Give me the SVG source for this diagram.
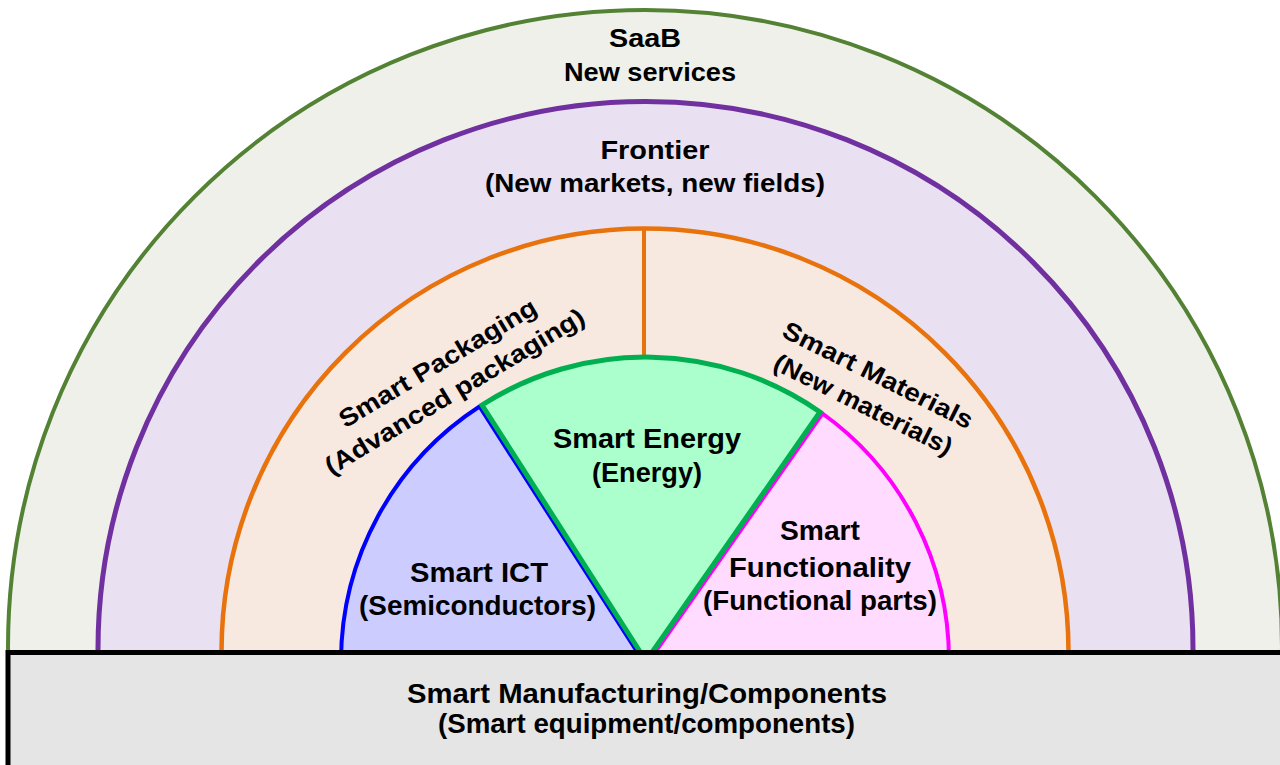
<svg xmlns="http://www.w3.org/2000/svg" width="1280" height="765" viewBox="0 0 1280 765">
  <style>
    .t { font-family: "Liberation Sans", Arial, sans-serif; font-weight: bold; fill: #000; text-anchor: middle; }
    .s25 { font-size: 25px; }
    .s27 { font-size: 27px; }
    .s28 { font-size: 28px; }
  </style>
  <rect width="1280" height="765" fill="#ffffff"/>

  <!-- outer rings (lower halves are covered by the base bar) -->
  <g id="saab">
    <circle cx="645" cy="647" r="637" fill="#eef0e9" stroke="#548235" stroke-width="4"/>
  </g>
  <g id="frontier">
    <circle cx="645.5" cy="649" r="547.5" fill="#e9e0f1" stroke="#7030a0" stroke-width="5"/>
  </g>
  <g id="smart-packaging-materials">
    <circle cx="645" cy="652" r="423.5" fill="#f7e8e0" stroke="#e8720c" stroke-width="4.5"/>
    <line x1="644" y1="228" x2="644" y2="358" stroke="#e8720c" stroke-width="4"/>
  </g>

  <!-- inner sectors -->
  <g id="smart-ict">
    <path d="M643 661 L341 661 A304 304 0 0 1 479.5 406.5 Z" fill="#ccccff" stroke="#0000ff" stroke-width="4" stroke-linejoin="round"/>
  </g>
  <g id="smart-functionality">
    <path d="M649 661 L822.5 413.5 A304 304 0 0 1 949 661 Z" fill="#ffdcff" stroke="#ff00ff" stroke-width="4" stroke-linejoin="round"/>
  </g>
  <g id="smart-energy">
    <path d="M646 661 L482 405 A304 304 0 0 1 820 412 Z" fill="#aaffcc" stroke="#00b050" stroke-width="5" stroke-linejoin="miter"/>
  </g>

  <!-- base bar -->
  <g id="smart-manufacturing">
    <rect x="8" y="652.5" width="1300" height="200" fill="#e5e5e5" stroke="#000000" stroke-width="5"/>
  </g>

  <!-- labels -->
  <g id="labels">
    <text class="t s25" x="645" y="46.5" textLength="72" lengthAdjust="spacingAndGlyphs">SaaB</text>
    <text class="t s25" x="650" y="81" textLength="172" lengthAdjust="spacingAndGlyphs">New services</text>

    <text class="t s25" x="655" y="158.5" textLength="109" lengthAdjust="spacingAndGlyphs">Frontier</text>
    <text class="t s25" x="655" y="191.5" textLength="340" lengthAdjust="spacingAndGlyphs">(New markets, new fields)</text>

    <g transform="translate(445.6 376.4) rotate(-31)">
      <text class="t s25" x="0" y="-7" textLength="226" lengthAdjust="spacingAndGlyphs">Smart Packaging</text>
      <text class="t s25" x="0" y="26" textLength="298" lengthAdjust="spacingAndGlyphs">(Advanced packaging)</text>
    </g>
    <g transform="translate(871 389) rotate(26.5)">
      <text class="t s25" x="0" y="-7" textLength="209" lengthAdjust="spacingAndGlyphs">Smart Materials</text>
      <text class="t s25" x="0" y="26" textLength="196" lengthAdjust="spacingAndGlyphs">(New materials)</text>
    </g>

    <text class="t s28" x="647" y="448" textLength="188" lengthAdjust="spacingAndGlyphs">Smart Energy</text>
    <text class="t s28" x="647" y="481.5" textLength="110" lengthAdjust="spacingAndGlyphs">(Energy)</text>

    <text class="t s27" x="479" y="581.5" textLength="138" lengthAdjust="spacingAndGlyphs">Smart ICT</text>
    <text class="t s27" x="477.5" y="615" textLength="237" lengthAdjust="spacingAndGlyphs">(Semiconductors)</text>

    <text class="t s27" x="820" y="540" textLength="80" lengthAdjust="spacingAndGlyphs">Smart</text>
    <text class="t s27" x="820" y="576.5" textLength="182" lengthAdjust="spacingAndGlyphs">Functionality</text>
    <text class="t s27" x="820" y="610" textLength="234" lengthAdjust="spacingAndGlyphs">(Functional parts)</text>

    <text class="t s28" x="647" y="703.3" textLength="480" lengthAdjust="spacingAndGlyphs">Smart Manufacturing/Components</text>
    <text class="t s28" x="646.5" y="733.3" textLength="417" lengthAdjust="spacingAndGlyphs">(Smart equipment/components)</text>
  </g>
</svg>
